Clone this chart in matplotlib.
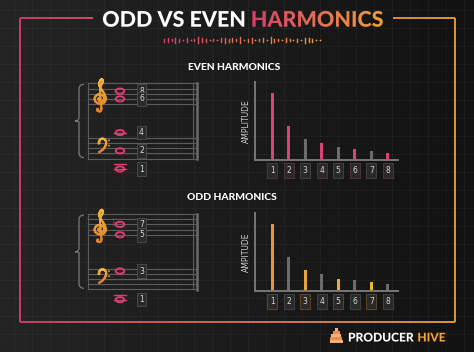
import numpy as np
import matplotlib
matplotlib.use("Agg")
import matplotlib.pyplot as plt
from matplotlib import colors
from matplotlib.patches import Ellipse, PathPatch, Rectangle, Circle
from matplotlib.path import Path
from matplotlib.textpath import TextPath
from matplotlib.font_manager import FontProperties
from matplotlib.transforms import Affine2D
from matplotlib.collections import LineCollection

# data
harmonics = [1, 2, 3, 4, 5, 6, 7, 8]
even_amp = [1.0, 0.51, 0.32, 0.25, 0.19, 0.17, 0.14, 0.11]
odd_amp = [1.0, 0.51, 0.31, 0.25, 0.18, 0.17, 0.14, 0.11]
even_hl = [1, 2, 4, 6, 8]
odd_hl = [1, 3, 5, 7]

even_notes = ['C5', 'G4', 'C4', 'C3', 'C2']
even_nums = [8, 6, 4, 2, 1]
even_clefs = ['treble', 'treble', 'bass', 'bass', 'bass']
odd_notes = ['Bb4', 'E4', 'G3', 'C2']
odd_nums = [7, 5, 3, 1]
odd_clefs = ['treble', 'treble', 'bass', 'bass']

# decorative waveform under the title (0 = dot)
wave = [3, 4, 2, 5, 3, 0, 4, 0, 2, 6, 4, 3, 0, 2, 0, 4, 5, 3, 4, 2, 6, 0,
        3, 5, 0, 2, 4, 0, 6, 3, 2, 0, 4, 2, 0, 3, 0, 5, 4, 3, 0, 0]

# clef outlines (staff-space units, y up); no installed font has these glyphs
g_clef = [(0.1, 0.3), (-0.3, 0.05), (-0.05, -0.45), (0.55, -0.35), (0.75, 0.25),
          (0.4, 0.85), (-0.35, 0.95), (-0.9, 0.35), (-0.85, -0.5), (-0.2, -1.0),
          (0.6, -0.9), (1.0, -0.2), (0.85, 0.9), (0.3, 2.0), (-0.15, 3.0),
          (0.0, 3.9), (0.35, 4.3), (0.5, 3.7), (0.15, 2.8), (0.0, 1.5),
          (0.15, -1.0), (0.25, -2.2), (0.0, -2.7), (-0.45, -2.55), (-0.4, -2.2)]
f_clef = [(0.0, 0.0), (0.1, 0.55), (0.6, 0.95), (1.3, 0.85), (1.7, 0.2),
          (1.5, -0.7), (0.9, -1.5), (0.0, -2.1)]

PINK = '#d83f6c'
ORANGE = '#eea03c'
GRAY = '#6c6c6c'
grad = colors.LinearSegmentedColormap.from_list('pk', [PINK, ORANGE])
gold = colors.LinearSegmentedColormap.from_list('gd', ['#e07f2c', '#f5b83c'])

W, H = 474, 352
fig = plt.figure(figsize=(4.74, 3.52), dpi=100)
ov = fig.add_axes([0, 0, 1, 1])
ov.axis('off')

# background
bg = colors.LinearSegmentedColormap.from_list('bg', ['#242424', '#121212'])
ov.imshow(np.linspace(0, 1, 200)[None, :], cmap=bg, extent=(0, W, H, 0), aspect='auto', zorder=0)
for x in np.arange(14, W, 18):
    ov.plot([x, x], [0, H], color='white', alpha=0.035, lw=0.7, zorder=0.5)
for y in np.arange(10, H, 18):
    ov.plot([0, W], [y, y], color='white', alpha=0.035, lw=0.7, zorder=0.5)

# gradient frame
pts = np.array([(93, 18), (20, 18), (20, 322), (455, 322), (455, 18), (393, 18)], float)
dense = []
for a, b in zip(pts[:-1], pts[1:]):
    n = int(np.hypot(*(b - a)) // 2) + 2
    dense.append(np.linspace(a, b, n))
dense = np.vstack(dense)
segs = np.stack([dense[:-1], dense[1:]], axis=1)
lc = LineCollection(segs, colors=grad((segs[:, 0, 0] - 20) / 435), linewidths=1.3, zorder=1)
ov.add_collection(lc)


def text_path(s, size, weight='black'):
    prop = FontProperties(family='Lato', weight=weight)
    return TextPath((0, 0), s, size=size, prop=prop)


def place(tp, x, base):
    return Affine2D().scale(1, -1).translate(x, base) + ov.transData


# title
TS = 21.5
t1 = text_path('ODD VS EVEN', TS)
t2 = text_path('HARMONICS', TS)
gap = 0.3 * TS
w1 = t1.get_extents().x1
w2 = t2.get_extents().x1
x0 = 242.5 - (w1 + gap + w2) / 2
ov.add_patch(PathPatch(t1, transform=place(t1, x0, 26.7), fc='white', ec='none', zorder=3))
hx = x0 + w1 + gap
p2 = PathPatch(t2, transform=place(t2, hx, 26.7), fc='none', ec='none', zorder=3)
ov.add_patch(p2)
im = ov.imshow(np.linspace(0, 1, 100)[None, :], cmap=grad, aspect='auto',
               extent=(hx, hx + w2, 32, 4), zorder=3)
im.set_clip_path(p2)

# waveform
wx = np.linspace(164, 320, len(wave))
for x, h in zip(wx, wave):
    c = grad((x - 164) / 156)
    if h == 0:
        ov.plot(x, 40, 'o', ms=1.3, color=c, mec='none', zorder=3)
    else:
        ov.plot([x, x], [40 - h / 2, 40 + h / 2], color=c, lw=1.0, zorder=3)

# section titles
ov.text(234, 67, 'EVEN HARMONICS', ha='center', va='center', fontsize=7.4,
        family='Lato', weight='black', color='white', zorder=3)
ov.text(232, 198, 'ODD HARMONICS', ha='center', va='center', fontsize=7.4,
        family='Lato', weight='black', color='white', zorder=3)

STEP = 2.6
LETTERS = 'CDEFGAB'


def smooth(p, n=10):
    p = np.asarray(p, float)
    q = np.vstack([p[0], p, p[-1]])
    out = []
    t = np.linspace(0, 1, n, endpoint=False)[:, None]
    for i in range(1, len(q) - 2):
        a, b, c, d = q[i - 1], q[i], q[i + 1], q[i + 2]
        out.append(0.5 * (2 * b + (-a + c) * t + (2 * a - 5 * b + 4 * c - d) * t ** 2
                          + (-a + 3 * b - 3 * c + d) * t ** 3))
    out.append(p[-1:])
    return np.vstack(out)


def draw_curve(p, cx, cy, sx, sy, lw):
    xy = smooth(p)
    xy = np.column_stack([cx + xy[:, 0] * sx, cy - xy[:, 1] * sy])
    sg = np.stack([xy[:-1], xy[1:]], axis=1)
    yy = sg[:, 0, 1]
    cval = (yy.max() - yy) / (yy.max() - yy.min() + 1e-9)
    ov.add_collection(LineCollection(sg, colors=gold(cval), linewidths=lw,
                                     capstyle='round', zorder=3))
    return xy


def draw_system(top, notes, nums, clefs):
    staff_col = '#5c5c5c'
    tops = {'treble': top, 'bass': top + 54.5}
    refs = {'treble': 38, 'bass': 26}
    for base in tops.values():
        for i in range(5):
            ov.plot([88, 196], [base + i * 2 * STEP] * 2, color=staff_col, lw=0.8, zorder=2)
    bottom = tops['bass'] + 8 * STEP
    ov.plot([88, 88], [top, bottom], color=staff_col, lw=0.8, zorder=2)
    ov.plot([193, 193], [top, bottom], color=staff_col, lw=0.8, zorder=2)
    ov.plot([197, 197], [top - 0.5, bottom + 0.5], color='#6a6a6a', lw=1.8, zorder=2)
    # brace
    mid = (top + bottom) / 2
    verts = [(84, top + 1), (79, top + 1), (79, top + 6), (79, mid - 4),
             (79, mid - 1), (77, mid), (75, mid), (77, mid), (79, mid + 1),
             (79, mid + 4), (79, bottom - 6), (79, bottom - 1), (84, bottom - 1)]
    codes = [Path.MOVETO, Path.CURVE3, Path.CURVE3, Path.LINETO,
             Path.CURVE3, Path.CURVE3, Path.LINETO, Path.CURVE3, Path.CURVE3,
             Path.LINETO, Path.LINETO, Path.CURVE3, Path.CURVE3]
    ov.add_patch(PathPatch(Path(verts, codes), fc='none', ec='#7a7a7a', lw=0.9, zorder=2))
    # treble clef around the G line, bass clef on the F line
    g_line = top + 6 * STEP
    xy = draw_curve(g_clef, 100, g_line, 5.6, 4.6, 1.5)
    ov.add_patch(Circle(xy[-1], 1.3, fc='#e5892e', ec='none', zorder=3))
    f_line = tops['bass'] + 2 * STEP
    xy = draw_curve(f_clef, 99, f_line, 4.2, 4.4, 1.5)
    ov.add_patch(Circle(xy[0], 1.6, fc='#f0a535', ec='none', zorder=3))
    for dy in (-STEP, STEP):
        ov.add_patch(Circle((109, f_line + dy), 0.9, fc='#f0a535', ec='none', zorder=3))
    for note, num, clef in zip(notes, nums, clefs):
        s = 7 * int(note[-1]) + LETTERS.index(note[0])
        y = tops[clef] + (refs[clef] - s) * STEP
        # ledger lines
        lo, hi = refs[clef] - 8, refs[clef]
        led = list(range(lo - 2, s - 1, -2)) + list(range(hi + 2, s + 1, 2))
        for ls in led:
            ly = tops[clef] + (refs[clef] - ls) * STEP
            ov.plot([114, 126], [ly, ly], color=PINK, lw=1.0, zorder=3)
        ov.add_patch(Ellipse((120, y), 8.5, 5.2, fc='none', ec=PINK, lw=1.4, zorder=4))
        if 'b' in note[1:]:
            ov.text(113.5, y - 1, '\u266d', ha='center', va='center', fontsize=8,
                    color=PINK, zorder=4)
        ov.text(141.5, y, str(num), ha='center', va='center', fontsize=5.5,
                color='#d8d8d8', zorder=5,
                bbox=dict(boxstyle='square,pad=0.3', fc='#2a2a2a', ec='#4f4f4f', lw=0.6))


draw_system(83.3, even_notes, even_nums, even_clefs)
draw_system(214, odd_notes, odd_nums, odd_clefs)


def bar_chart(y_base, amp, hl, hl_cols, edge, label):
    ax = fig.add_axes([255 / W, (H - y_base) / H, 143 / W, 78 / H])
    ax.set_facecolor('none')
    cols = []
    k = 0
    for h in harmonics:
        if h in hl:
            cols.append(hl_cols[k % len(hl_cols)])
            k += 1
        else:
            cols.append(GRAY)
    ax.bar(harmonics, amp, width=0.18, color=cols)
    ax.set_xlim(-0.05, 8.62)
    ax.set_ylim(0, 1.17)
    for sp in ['top', 'right']:
        ax.spines[sp].set_visible(False)
    for sp in ['left', 'bottom']:
        ax.spines[sp].set_color('#777777')
        ax.spines[sp].set_linewidth(1.4)
    ax.set_xticks([])
    ax.set_yticks([])
    ax.set_ylabel(label, color='#d0d0d0', fontsize=5.5, labelpad=3)
    for h in harmonics:
        ax.annotate(str(h), xy=(h, 0), xytext=(0, -7.6), textcoords='offset points',
                    ha='center', va='center', fontsize=5.5, color='#d8d8d8',
                    annotation_clip=False,
                    bbox=dict(boxstyle='square,pad=0.35', fc='#292929',
                              ec=edge if h in hl else '#474747', lw=0.6))
    return ax


bar_chart(160, even_amp, even_hl, ['#db4372'], '#5a3442', 'AMPLITUDE')
bar_chart(291, odd_amp, odd_hl, ['#e9963a', '#eaa23a', '#eaab38', '#e8bb30'], '#6a4a24', 'AMPITUDE')

# footer logo
hive_w = [3, 7, 10, 12, 13.5]
hive_y = [329.5, 332.5, 335.5, 338.5, 341.5]
for i, (wd, yy) in enumerate(zip(hive_w, hive_y)):
    ov.add_patch(Rectangle((336.5 - wd / 2, yy - 1.1), wd, 2.2,
                           fc='#f2b07a' if i % 2 == 0 else '#e98d4a', ec='none', zorder=3))
FS = 12
f1 = text_path('PRODUCER', FS)
f2 = text_path('HIVE', FS)
fx = 348
ov.add_patch(PathPatch(f1, transform=place(f1, fx, 341.5), fc='white', ec='none', zorder=3))
ov.add_patch(PathPatch(f2, transform=place(f2, fx + f1.get_extents().x1 + 0.3 * FS, 341.5),
                       fc='#f2a33a', ec='none', zorder=3))

ov.set_xlim(0, W)
ov.set_ylim(H, 0)
fig.savefig('out.png', dpi=100, facecolor='#1b1b1b')
